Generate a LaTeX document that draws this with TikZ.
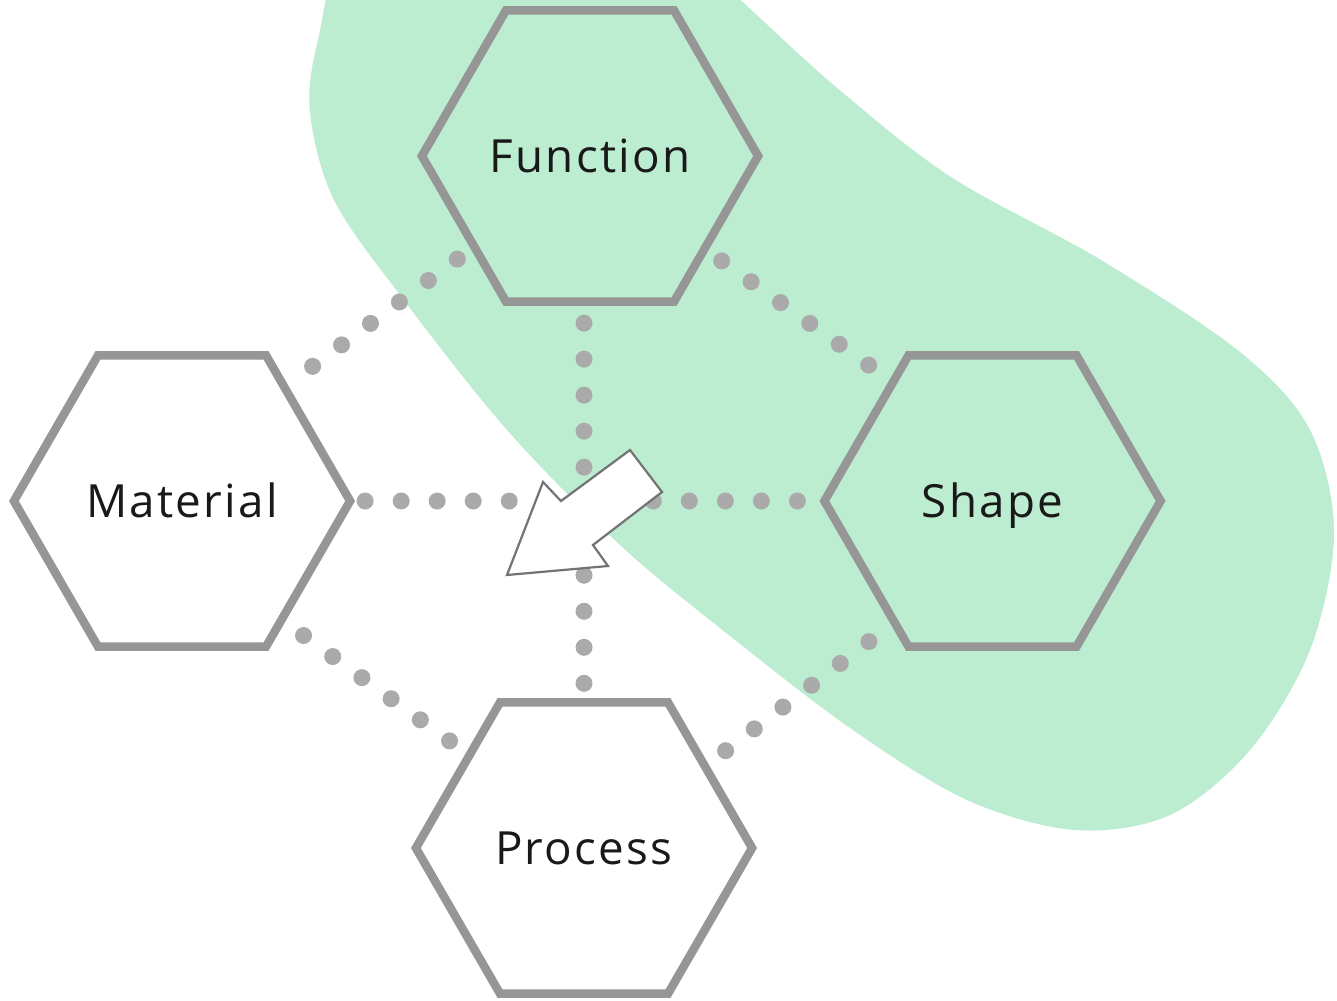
\documentclass[tikz,border=0pt]{standalone}
\usepackage{fontspec}
\setmainfont[LetterSpace=5]{Open Sans}
\usetikzlibrary{
  shapes.geometric,
  positioning,
}
\definecolor{blobgreen}{RGB}{188,237,209}
\definecolor{hexgray}{RGB}{150,150,150}
\definecolor{dotgray}{RGB}{170,170,170}
\definecolor{arrowgray}{RGB}{115,115,115}
\tikzset{
  hexa/.style={
    regular polygon,
    regular polygon sides=6,
    minimum size=3.36cm,
    inner sep=0pt,
    outer sep=0pt,
    line width=0.085cm,
    draw=hexgray,
    text=black!90,
    text height=9.3pt,
    text depth=0pt,
    font=\fontsize{13pt}{15pt}\selectfont
  },
  dots/.style={
    draw=dotgray,
    line width=0.17cm,
    line cap=round,
    dash pattern=on 0pt off 0.36cm,
  },
  bigarrow/.style={
    draw=arrowgray,
    fill=white,
    line width=0.022cm,
    line join=miter,
  },
  blob/.style={
    fill=blobgreen,
  },
}

\begin{document}
\begin{tikzpicture}[x=0.01cm, y=-0.01cm]

  \useasboundingbox (0,0) rectangle (1337,1000);
  \clip (0,0) rectangle (1337,1000);

  \fill[blob] plot[smooth cycle, tension=0.55] coordinates {
    (352,-60) (318,40) (310,112) (334,200) (400,295) (507,430) (620,545)
    (725,632) (850,728) (967,800) (1075,830) (1170,815) (1250,750)
    (1310,650) (1334,533) (1310,430) (1240,352) (1101,260) (951,177)
    (836,87) (735,-5) (650,-80) (480,-110)
  };

  \node[hexa] (mat) at (182,501) {Material};
  \node[hexa, right=4.74cm of mat] (shp) {Shape};
  \node[hexa] (fun) at (590,156) {Function};
  \node[hexa] (proc) at (584,848) {Process};

  \draw[dots, shorten <=0.21cm, shorten >=0.30cm] (fun.218.5) -- (mat.48);
  \draw[dots, shorten <=0.21cm, shorten >=0.25cm] (fun.321.5) -- (shp.130.4);
  \draw[dots, shorten <=0.215cm, shorten >=0.155cm] (fun.south -| proc.north) -- (proc.north);
  \draw[dots, shorten <=0.15cm, shorten >=0.17cm] (mat.east) -- (shp.west);
  \draw[dots, shorten <=0.27cm, shorten >=0.19cm] (mat.-50.5) -- (proc.141.8);
  \draw[dots, shorten <=0.32cm, shorten >=0.17cm] (shp.231.9) -- (proc.34.9);

  \draw[bigarrow] (507,575) -- (543,482) -- (561,501) -- (630,450)
    -- (662,492) -- (593,545) -- (608,566) -- cycle;

\end{tikzpicture}
\end{document}
